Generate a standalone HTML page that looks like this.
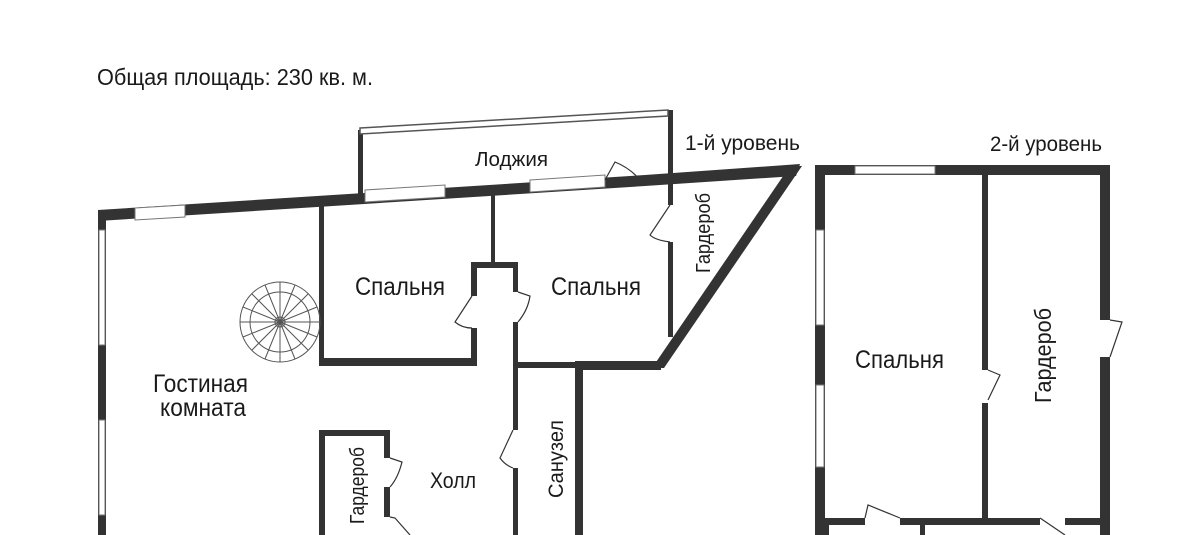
<!DOCTYPE html>
<html><head><meta charset="utf-8"><style>
html,body{margin:0;padding:0;background:#fff;width:1200px;height:535px;overflow:hidden}
svg{display:block}
text{font-family:"Liberation Sans","DejaVu Sans",sans-serif;fill:#1a1a1a}
</style></head><body>
<svg width="1200" height="535" viewBox="0 0 1200 535" xmlns="http://www.w3.org/2000/svg">
<g fill="#333">
<polygon points="98,210 645,175 645,186 98,221"/>
<polygon points="645,175 800,164 796,176 645,186"/>
<polygon points="790,166 802,166 664,368 652,368"/>
<rect x="575" y="361" width="86" height="9"/>
<rect x="98" y="210" width="8" height="325"/>
<rect x="358" y="130" width="5" height="65"/>
<rect x="668" y="110" width="5" height="70"/>
<rect x="668" y="180" width="5" height="25"/>
<rect x="668" y="242" width="5" height="95"/>
<rect x="319" y="204" width="5" height="162"/>
<rect x="319" y="358" width="157" height="8"/>
<rect x="471" y="262" width="6" height="34"/>
<rect x="471" y="328" width="6" height="38"/>
<rect x="491" y="195" width="4" height="70"/>
<rect x="471" y="262" width="46" height="6"/>
<rect x="513" y="262" width="5" height="30"/>
<rect x="513" y="322" width="5" height="48"/>
<rect x="513" y="362" width="65" height="6"/>
<rect x="513" y="366" width="5" height="64"/>
<rect x="513" y="468" width="5" height="67"/>
<rect x="575" y="362" width="8" height="173"/>
<rect x="319" y="430" width="70" height="6"/>
<rect x="319" y="430" width="6" height="105"/>
<rect x="384" y="430" width="6" height="28"/>
<rect x="384" y="487" width="6" height="30"/>
<rect x="815" y="165" width="295" height="10"/>
<rect x="815" y="165" width="10" height="370"/>
<rect x="1100" y="165" width="10" height="155"/>
<rect x="1100" y="357" width="10" height="178"/>
<rect x="982" y="170" width="6" height="200"/>
<rect x="982" y="403" width="6" height="120"/>
<rect x="820" y="518" width="45" height="7"/>
<rect x="900" y="518" width="140" height="7"/>
<rect x="1065" y="518" width="40" height="7"/>
<rect x="920" y="518" width="5" height="17"/>
<rect x="825" y="525" width="4" height="10"/>
</g>
<g fill="#fff" stroke="#777" stroke-width="1">
<polygon points="135,208 185,205 185,217 135,220"/>
<polygon points="365,190 445,185 445,197 365,202"/>
<polygon points="530,180 605,175 605,187 530,192"/>
<rect x="99" y="230" width="6" height="115"/>
<rect x="99" y="420" width="6" height="95"/>
<rect x="855" y="166" width="80" height="8"/>
<rect x="816" y="230" width="8" height="95"/>
<rect x="816" y="385" width="8" height="82"/>
</g>
<polygon points="360,128 668,110 668,116 360,134" fill="#fff" stroke="#555" stroke-width="1.5"/>
<g fill="none" stroke="#333" stroke-width="1.2">
<path d="M605,180 L615,162 Q630,168 640,180"/>
<path d="M670,205 L650,235 Q655,240 670,242"/>
<path d="M472,296 L455,322 Q462,328 472,328"/>
<path d="M518,292 L530,296 Q528,310 518,322"/>
<path d="M390,458 L402,462 Q398,478 390,487"/>
<path d="M390,517 L395,518 L410,535"/>
<path d="M513,430 L500,458 Q505,465 513,468"/>
<path d="M988,370 L1000,375 L988,400"/>
<path d="M1110,320 L1122,322 L1110,357"/>
<path d="M865,518 L868,505 L900,518"/>
<path d="M1040,518 L1065,535"/>
</g>
<g fill="none" stroke="#555" stroke-width="1">
<circle cx="280" cy="322" r="40"/>
<circle cx="280" cy="322" r="30"/>
<circle cx="280" cy="322" r="5"/>
<path d="M280,282V362M240,322H320M252,294L308,350M308,294L252,350M265,285L295,359M295,285L265,359M243,307L317,337M243,337L317,307"/>
</g>
<g>
<text x="97" y="85" font-size="23" textLength="276" lengthAdjust="spacingAndGlyphs">Общая площадь: 230 кв. м.</text>
<text x="685" y="150" font-size="21" textLength="115" lengthAdjust="spacingAndGlyphs">1-й уровень</text>
<text x="990" y="151" font-size="21" textLength="112" lengthAdjust="spacingAndGlyphs">2-й уровень</text>
<text x="475" y="166" font-size="20" textLength="73" lengthAdjust="spacingAndGlyphs">Лоджия</text>
<text x="355" y="295" font-size="25" textLength="90" lengthAdjust="spacingAndGlyphs">Спальня</text>
<text x="551" y="295" font-size="25" textLength="90" lengthAdjust="spacingAndGlyphs">Спальня</text>
<text x="153" y="392" font-size="25" textLength="95" lengthAdjust="spacingAndGlyphs">Гостиная</text>
<text x="160" y="416" font-size="25" textLength="86" lengthAdjust="spacingAndGlyphs">комната</text>
<text x="430" y="488" font-size="22" textLength="46" lengthAdjust="spacingAndGlyphs">Холл</text>
<text x="855" y="368" font-size="25" textLength="89" lengthAdjust="spacingAndGlyphs">Спальня</text>
<text font-size="20" transform="translate(710,273) rotate(-90)" textLength="80" lengthAdjust="spacingAndGlyphs">Гардероб</text>
<text font-size="20" transform="translate(364,524) rotate(-90)" textLength="77" lengthAdjust="spacingAndGlyphs">Гардероб</text>
<text font-size="21" transform="translate(563,498) rotate(-90)" textLength="78" lengthAdjust="spacingAndGlyphs">Санузел</text>
<text font-size="23" transform="translate(1051,403) rotate(-90)" textLength="95" lengthAdjust="spacingAndGlyphs">Гардероб</text>
</g>
</svg>
</body></html>
